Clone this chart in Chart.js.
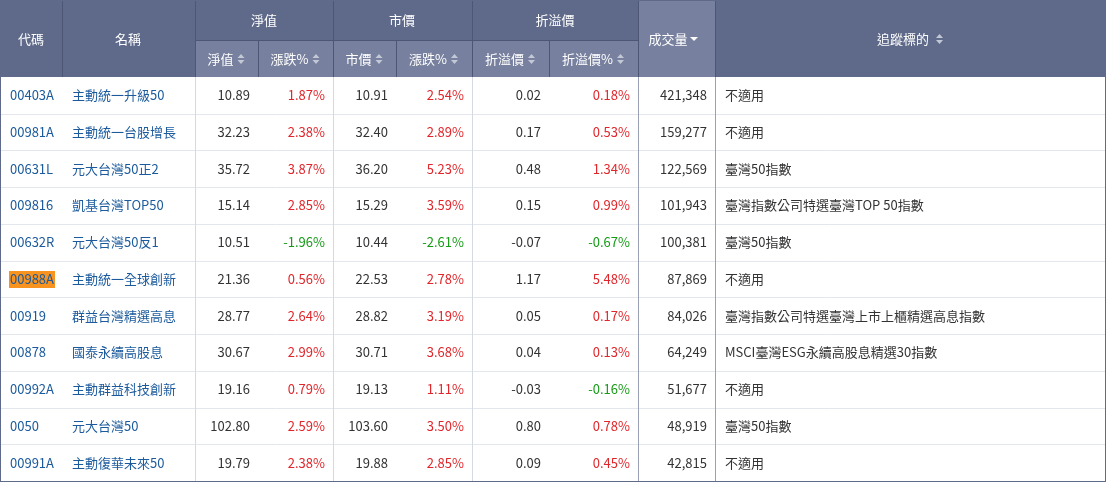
<!DOCTYPE html>
<html><head><meta charset="utf-8">
<script src="https://cdn.jsdelivr.net/npm/chart.js@4"></script>
<style>html,body{margin:0;padding:0;background:#fff}#w{width:1106px;height:482px}</style>
</head><body><div id="w"><canvas id="c"></canvas></div>
<script>
const codes=["00403A","00981A","00631L","009816","00632R","00988A","00919","00878","00992A","0050","00991A"];
const names=["主動統一升級50","主動統一台股增長","元大台灣50正2","凱基台灣TOP50","元大台灣50反1","主動統一全球創新","群益台灣精選高息","國泰永續高股息","主動群益科技創新","元大台灣50","主動復華未來50"];
const nav=["10.89","32.23","35.72","15.14","10.51","21.36","28.77","30.67","19.16","102.80","19.79"];
const navChg=[1.87,2.38,3.87,2.85,-1.96,0.56,2.64,2.99,0.79,2.59,2.38];
const price=["10.91","32.40","36.20","15.29","10.44","22.53","28.82","30.71","19.13","103.60","19.88"];
const priceChg=[2.54,2.89,5.23,3.59,-2.61,2.78,3.19,3.68,1.11,3.50,2.85];
const prem=["0.02","0.17","0.48","0.15","-0.07","1.17","0.05","0.04","-0.03","0.80","0.09"];
const premPct=[0.18,0.53,1.34,0.99,-0.67,5.48,0.17,0.13,-0.16,0.78,0.45];
const volume=[421348,159277,122569,101943,100381,87869,84026,64249,51677,48919,42815];
const tracking=["不適用","不適用","臺灣50指數","臺灣指數公司特選臺灣TOP 50指數","臺灣50指數","不適用","臺灣指數公司特選臺灣上市上櫃精選高息指數","MSCI臺灣ESG永續高股息精選30指數","不適用","臺灣50指數","不適用"];
const highlightCode="00988A";

const X=[0,62,195,258,333,396,472,549,638,715,1106];
const F='13px "Noto Sans CJK TC","Noto Sans",sans-serif';
const red='#e0262b',green='#169b17',blue='#1b5a9c',txt='#333';
function pct(v){return v.toFixed(2)+'%';}
function arrows(ctx,x,y,down){ctx.fillStyle='#c3c8d6';ctx.beginPath();
 if(down){ctx.fillStyle='#fff';ctx.moveTo(x,y-2);ctx.lineTo(x+8,y-2);ctx.lineTo(x+4,y+2);}
 else{ctx.moveTo(x,y-1);ctx.lineTo(x+7,y-1);ctx.lineTo(x+3.5,y-5);ctx.moveTo(x,y+1);ctx.lineTo(x+7,y+1);ctx.lineTo(x+3.5,y+5);}
 ctx.fill();}
const tablePlugin={id:'tbl',afterDraw(chart){
 const ctx=chart.ctx,ys=chart.scales.y;ctx.save();ctx.font=F;ctx.textBaseline='middle';
 const top=ys.top,bot=ys.bottom;
 // header
 ctx.fillStyle='#5f6a8a';ctx.fillRect(0,0,1106,top);
 ctx.fillStyle='#77809e';ctx.fillRect(195,40,443,top-40);ctx.fillRect(638,0,77,top);
 ctx.strokeStyle='#4d5674';ctx.lineWidth=1;
 ctx.beginPath();
 [62,195,333,472,638,715].forEach(x=>{ctx.moveTo(x+.5,0);ctx.lineTo(x+.5,top);});
 [258,396,549].forEach(x=>{ctx.moveTo(x+.5,40);ctx.lineTo(x+.5,top);});
 ctx.moveTo(195,40.5);ctx.lineTo(638,40.5);ctx.stroke();
 ctx.fillStyle='#fff';ctx.textAlign='center';
 ctx.fillText('代碼',31,39);ctx.fillText('名稱',128,39);
 ctx.fillText('淨值',264,20);ctx.fillText('市價',402,20);ctx.fillText('折溢價',555,20);
 const sub=['淨值','漲跌%','市價','漲跌%','折溢價','折溢價%'];
 for(let i=0;i<6;i++){const cx=(X[i+2]+X[i+3])/2-6;ctx.fillStyle='#fff';ctx.textAlign='center';ctx.fillText(sub[i],cx,59);
  const w=ctx.measureText(sub[i]).width;arrows(ctx,cx+w/2+4,59,false);}
 ctx.fillStyle='#fff';ctx.fillText('成交量',668,39);arrows(ctx,690,39,true);
 ctx.fillStyle='#fff';ctx.fillText('追蹤標的',903,39);arrows(ctx,936,39,false);
 // rows
 const n=codes.length,h=(bot-top)/n;
 for(let i=0;i<n;i++){const y=ys.getPixelForValue(i);
  ctx.strokeStyle='#e3e6ec';ctx.beginPath();ctx.moveTo(0,Math.round(y+h/2)+.5);ctx.lineTo(1106,Math.round(y+h/2)+.5);ctx.stroke();
  ctx.textAlign='left';
  if(codes[i]===highlightCode){const w=ctx.measureText(codes[i]).width;ctx.fillStyle='#f7931e';ctx.fillRect(9,y-8,w+2,17);}
  ctx.fillStyle=blue;ctx.fillText(codes[i],10,y);ctx.fillText(names[i],72,y);
  ctx.textAlign='right';
  const cells=[[nav[i],txt],[pct(navChg[i]),navChg[i]<0?green:red],[price[i],txt],[pct(priceChg[i]),priceChg[i]<0?green:red],[prem[i],txt],[pct(premPct[i]),premPct[i]<0?green:red],[volume[i].toLocaleString('en-US'),txt]];
  cells.forEach((c,k)=>{ctx.fillStyle=c[1];ctx.fillText(c[0],X[k+3]-8,y);});
  ctx.textAlign='left';ctx.fillStyle=txt;ctx.fillText(tracking[i],725,y);
 }
 ctx.strokeStyle='#d5d9e2';ctx.beginPath();
 [195,333,472].forEach(x=>{ctx.moveTo(x+.5,top);ctx.lineTo(x+.5,bot);});ctx.stroke();
 ctx.strokeStyle='#9aa1b5';ctx.beginPath();ctx.moveTo(638.5,top);ctx.lineTo(638.5,bot);ctx.moveTo(715.5,top);ctx.lineTo(715.5,bot);ctx.stroke();
 ctx.strokeStyle='#5f6a8a';ctx.strokeRect(0.5,0.5,1105,bot);
 ctx.restore();}};
new Chart(document.getElementById('c'),{type:'bar',
 data:{labels:codes,datasets:[{data:volume,backgroundColor:'rgba(0,0,0,0)'}]},
 options:{indexAxis:'y',responsive:true,maintainAspectRatio:false,animation:false,
  layout:{padding:{top:77,bottom:1,left:0,right:0}},
  plugins:{legend:{display:false},tooltip:{enabled:false}},
  scales:{x:{display:false},y:{display:false}}},
 plugins:[tablePlugin]});
</script></body></html>
